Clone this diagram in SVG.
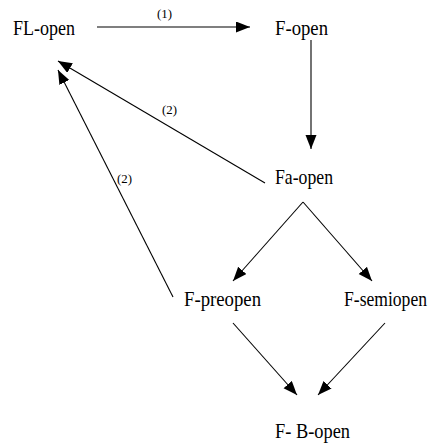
<svg xmlns="http://www.w3.org/2000/svg" width="431" height="446" viewBox="0 0 431 446">
<style>
.n{font-family:"Liberation Serif","Times New Roman",serif;font-size:21px;fill:#000}
.l{font-family:"Liberation Serif","Times New Roman",serif;font-size:13px;fill:#000}
.c line{stroke:#000;stroke-width:1.1;marker-end:url(#ah)}
</style>
<defs>
<marker id="ah" markerUnits="userSpaceOnUse" markerWidth="15" markerHeight="12" refX="14" refY="5.5" orient="auto">
<path d="M0,0 L14,5.5 L0,11 z" fill="#000"/>
</marker>
</defs>
<rect width="431" height="446" fill="#fff"/>
<g id="connectors" class="c">
<line x1="97" y1="27" x2="250" y2="27"/>
<line x1="311" y1="40" x2="311" y2="149"/>
<line x1="265" y1="183" x2="58" y2="61"/>
<line x1="173" y1="297" x2="58" y2="70"/>
<line x1="303" y1="202" x2="233" y2="281"/>
<line x1="303" y1="202" x2="372" y2="281"/>
<line x1="233" y1="323" x2="297" y2="395"/>
<line x1="385" y1="323" x2="318" y2="395"/>
</g>
<g id="labels">
<text class="l" x="157" y="18" textLength="15" lengthAdjust="spacingAndGlyphs">(1)</text>
<text class="l" x="162" y="114" textLength="15" lengthAdjust="spacingAndGlyphs">(2)</text>
<text class="l" x="117" y="183" textLength="15" lengthAdjust="spacingAndGlyphs">(2)</text>
</g>
<g id="FL-open"><text class="n" x="13" y="35" textLength="62" lengthAdjust="spacingAndGlyphs">FL-open</text></g>
<g id="F-open"><text class="n" x="275" y="35" textLength="53" lengthAdjust="spacingAndGlyphs">F-open</text></g>
<g id="Fa-open"><text class="n" x="275" y="184" textLength="58" lengthAdjust="spacingAndGlyphs">Fa-open</text></g>
<g id="F-preopen"><text class="n" x="184" y="306" textLength="77" lengthAdjust="spacingAndGlyphs">F-preopen</text></g>
<g id="F-semiopen"><text class="n" x="344" y="306" textLength="83" lengthAdjust="spacingAndGlyphs">F-semiopen</text></g>
<g id="F-B-open"><text class="n" x="275" y="438" textLength="75" lengthAdjust="spacingAndGlyphs">F- B-open</text></g>
</svg>
